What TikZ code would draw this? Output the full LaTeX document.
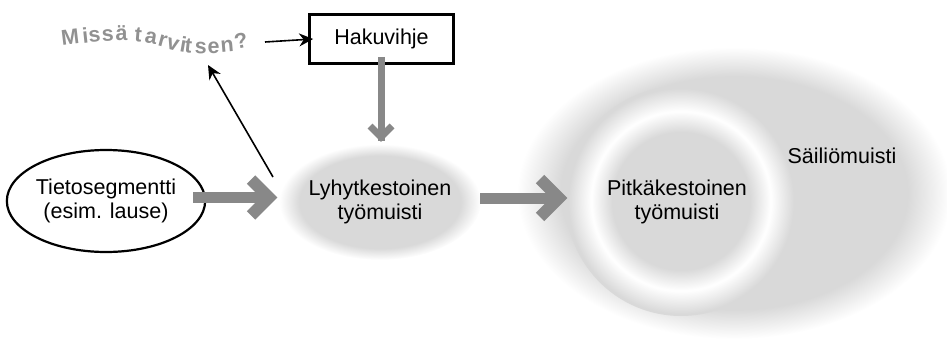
\documentclass[tikz,border=0pt]{standalone}
\usepackage{fontspec}
\setmainfont{Liberation Sans}
\usetikzlibrary{arrows.meta,shapes.geometric}
\definecolor{blobgray}{RGB}{217,217,217}
\definecolor{arrgray}{RGB}{136,136,136}
\definecolor{qgray}{RGB}{145,145,145}
\pgfdeclareradialshading{blobshade}{\pgfpoint{0bp}{0bp}}{color(0bp)=(blobgray); color(20bp)=(blobgray); color(25bp)=(white); color(50bp)=(white)}
\pgfdeclareradialshading{ringshade}{\pgfpoint{0bp}{0bp}}{color(0bp)=(blobgray); color(15bp)=(blobgray); color(19.5bp)=(white); color(24.5bp)=(blobgray); color(50bp)=(blobgray)}
\newcommand\mainfs{\fontsize{21.5}{24}\selectfont}
\newcommand\qfs{\bfseries\fontsize{21.5}{24}\selectfont}
\tikzset{
  gshaft/.style={draw=arrgray, line width=11pt},
  gchev/.style={draw=arrgray, line width=12pt, line join=miter},
  barrow/.style={draw=black, line width=1.6pt, -{Stealth[length=14pt,width=13pt]}},
  blob/.style={ellipse, shading=blobshade, inner sep=0pt},
  lbl/.style={align=center, font=\mainfs, inner sep=0pt},
  qch/.style={font=\qfs, text=qgray, anchor=base west, inner sep=0pt},
}
\begin{document}
\begin{tikzpicture}[x=1pt,y=-1pt]
\useasboundingbox (0,0) rectangle (947,342);
% blobs
\node[blob, minimum width=434pt, minimum height=292pt] (store) at (734,193) {};
\node[circle, shading=ringshade, minimum size=230pt, inner sep=0pt] (ltwm) at (681,201) {};
\node[blob, minimum width=180pt, minimum height=116pt, lbl] (stwm) at (380,202) {Lyhytkestoinen\\työmuisti};
\node[lbl] (ltwmtext) at (677,202) {Pitkäkestoinen\\työmuisti};
\node[lbl, anchor=base] (storetext) at (842,163) {Säiliömuisti};
% segment ellipse
\node[draw, ellipse, line width=2.2pt, minimum width=194pt, minimum height=102pt, lbl] (ts) at (106,201) {Tietosegmentti\\(esim. lause)};
% cue box
\node[draw, line width=2.7pt, minimum width=144pt, minimum height=49pt, lbl] (hak) at (381.5,39) {Hakuvihje};
% curved question, letter by letter
\foreach \c/\x/\y/\a [count=\i] in {M/62/46/7, i/83/43.5/6, s/89/43/5, s/102/41.5/3, ä/115.5/40.5/0,
  t/134/41/-5, a/144/42.5/-10, r/157/45/-15, v/165.5/48/-15, i/179/51/-10, t/184/52/-6,
  s/194.5/53/-2, e/207.5/53.3/0, n/221/52.8/5, ?/236/50/12}
  \node[qch, rotate=\a] (q\i) at (\x,\y) {\c};
% grey thick arrows
\coordinate (a1s) at (193,197.5);
\coordinate (a1v) at (269,197.5);
\draw[gshaft] (a1s) -- ([xshift=-6pt]a1v);
\draw[gchev] ([shift={(-18,-18)}]a1v) -- (a1v) -- ([shift={(-18,18)}]a1v);
\coordinate (a2s) at (480,198);
\coordinate (a2v) at (559,198);
\draw[gshaft] (a2s) -- ([xshift=-6pt]a2v);
\draw[gchev] ([shift={(-19,-19)}]a2v) -- (a2v) -- ([shift={(-19,19)}]a2v);
\coordinate (a3s) at (381,57);
\coordinate (a3v) at (381,137);
\draw[gshaft, line width=7pt] (a3s) -- ([yshift=-4pt]a3v);
\draw[gchev, line width=7pt] ([shift={(-11,-11)}]a3v) -- (a3v) -- ([shift={(11,-11)}]a3v);
% black arrows
\coordinate (qe) at (265,42);
\draw[barrow] (qe) -- ([xshift=5pt]hak.west);
\coordinate (lq) at (273,177);
\coordinate (qs) at (208,65);
\draw[barrow] (lq) -- (qs);
\end{tikzpicture}
\end{document}
